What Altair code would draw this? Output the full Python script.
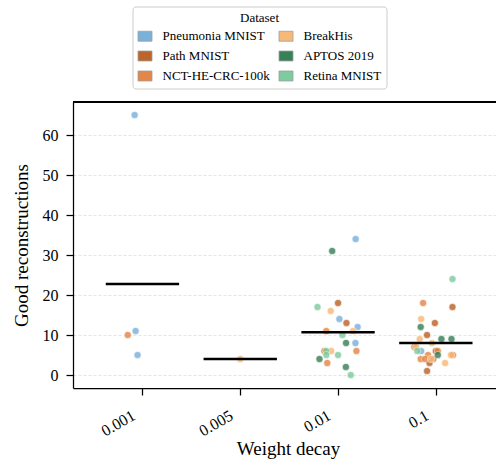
import json
import altair as alt
import pandas as pd

decays = ["0.001", "0.005", "0.01", "0.1"]
datasets = ["Pneumonia MNIST", "Path MNIST", "NCT-HE-CRC-100k",
            "BreakHis", "APTOS 2019", "Retina MNIST"]
colors = ["#74acd8", "#b85c20", "#e3803f", "#f6b672", "#2e7a4e", "#78c998"]

# points: decay, dataset, value, horizontal jitter
pt_decay = (["0.001"] * 4 + ["0.005"] * 1 + ["0.01"] * 23 + ["0.1"] * 28)
pt_dataset = (
    ["Pneumonia MNIST", "Pneumonia MNIST", "Pneumonia MNIST", "NCT-HE-CRC-100k"]
    + ["BreakHis"]
    + ["Pneumonia MNIST"] * 4 + ["Path MNIST"] * 2 + ["NCT-HE-CRC-100k"] * 4
    + ["BreakHis"] * 3 + ["APTOS 2019"] * 4 + ["Retina MNIST"] * 6
    + ["Pneumonia MNIST"] * 1 + ["Path MNIST"] * 6 + ["NCT-HE-CRC-100k"] * 8
    + ["BreakHis"] * 7 + ["APTOS 2019"] * 4 + ["Retina MNIST"] * 2
)
pt_value = (
    [65, 11, 5, 10]
    + [4]
    + [34, 14, 12, 8] + [18, 13] + [11, 6, 6, 3]
    + [16, 11, 6] + [31, 8, 4, 2] + [17, 10, 6, 5, 5, 0]
    + [6] + [17, 13, 10, 6, 3, 1] + [18, 7, 6, 5, 5, 4, 4, 4]
    + [14, 9, 8, 7, 5, 4, 3] + [12, 9, 9, 5] + [24, 6]
)
pt_jitter = (
    [-0.08, -0.07, -0.05, -0.15]
    + [0.0]
    + [0.18, 0.014, 0.2, 0.178] + [0.0, 0.086] + [-0.12, 0.188, -0.14, -0.11]
    + [-0.075, 0.153, -0.07] + [-0.06, 0.082, -0.19, 0.08]
    + [-0.21, 0.045, -0.12, -0.12, 0.0, 0.13]
    + [-0.15] + [0.17, -0.01, -0.09, 0.0, -0.065, -0.09]
    + [-0.13, -0.22, 0.02, -0.08, 0.175, -0.155, -0.025, -0.11]
    + [-0.15, -0.165, -0.04, -0.2, 0.155, -0.05, 0.095]
    + [-0.155, 0.057, 0.16, 0.02] + [0.17, -0.19]
)

df = pd.DataFrame({
    "decay": pt_decay,
    "dataset": pt_dataset,
    "value": pt_value,
    "jitter": pt_jitter,
})
df["idx"] = df["decay"].map(decays.index)
df["pos"] = df["idx"] + df["jitter"]

W, H = 423, 286
FONT = "Liberation Serif, Times New Roman, serif"

xscale = alt.Scale(domain=[-0.71, 3.615], nice=False, zero=False)
yscale = alt.Scale(domain=[-3.25, 68.25], nice=False, zero=False)

label_expr = json.dumps(decays) + "[datum.value]"

base = alt.Chart(df)

points = base.mark_circle(size=52, opacity=0.78, stroke="white", strokeWidth=0.6).encode(
    x=alt.X("pos:Q", scale=xscale,
            axis=alt.Axis(values=[0, 1, 2, 3], labelExpr=label_expr, title="Weight decay",
                          grid=False, labelAngle=-30, labelAlign="right", labelBaseline="top",
                          labelFontSize=16, labelPadding=12, labelOffset=-13,
                          tickSize=7, tickWidth=1.25,
                          tickColor="black", domainColor="black", domainWidth=1.25,
                          labelColor="black", titleFontSize=19, titleFontWeight="normal",
                          titleColor="black", titleX=215, titleY=60,
                          titleBaseline="middle", titleAlign="center")),
    y=alt.Y("value:Q", scale=yscale,
            axis=alt.Axis(values=[0, 10, 20, 30, 40, 50, 60], title="Good reconstructions",
                          grid=True, gridDash=[3, 2], gridColor="#dddddd", gridWidth=0.8,
                          labelFontSize=16, labelPadding=8, tickSize=7, tickWidth=1.25,
                          tickColor="black", domainColor="black", domainWidth=1.25,
                          labelColor="black", titleFontSize=19, titleFontWeight="normal",
                          titleColor="black", titleX=-52, titleY=H / 2,
                          titleBaseline="middle", titleAlign="center")),
    color=alt.Color("dataset:N",
                    scale=alt.Scale(domain=datasets, range=colors),
                    legend=alt.Legend(
                        title="Dataset", orient="none", legendX=59.5, legendY=-95.5,
                        columns=2, columnPadding=6, rowPadding=5,
                        symbolType="M-1,-0.714H1V0.714H-1Z", symbolSize=196,
                        symbolOpacity=0.95, symbolStrokeColor="#9a9a9a",
                        symbolStrokeWidth=0.8,
                        labelFontSize=13, labelOffset=10, labelColor="black",
                        titleFontSize=13, titleFontWeight="normal", titleColor="black",
                        titleAnchor="middle", titleAlign="center", titlePadding=4,
                        padding=5, fillColor="white", strokeColor="#cccccc")),
)

means = base.transform_aggregate(
    mean_value="mean(value)", groupby=["idx"]
).transform_calculate(
    x1="datum.idx - 0.375", x2="datum.idx + 0.375"
).mark_rule(color="black", strokeWidth=2.6).encode(
    x=alt.X("x1:Q", scale=xscale),
    x2="x2:Q",
    y=alt.Y("mean_value:Q", scale=yscale),
)

top_border = alt.Chart(df).mark_rule(color="black", strokeWidth=1.25).encode(
    x=alt.value(0), x2=alt.value(W), y=alt.value(0)
)

chart = alt.layer(points, means, top_border).properties(
    width=W, height=H,
    autosize=alt.AutoSizeParams(type="none"),
    padding={"left": 73, "top": 102, "right": 0, "bottom": 74},
).configure(
    font=FONT,
).configure_view(
    stroke=None,
).configure_axis(
    labelFont=FONT, titleFont=FONT,
).configure_legend(
    labelFont=FONT, titleFont=FONT, cornerRadius=3, strokeWidth=1,
)

chart.save("out.html", embed_options={"renderer": "svg", "actions": False})
